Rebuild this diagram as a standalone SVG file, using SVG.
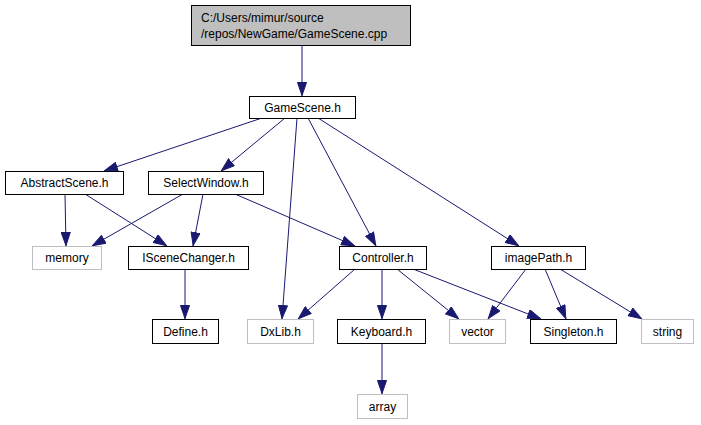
<svg xmlns="http://www.w3.org/2000/svg" width="701" height="425" viewBox="0 0 701 425">
<style>
text{font-family:"Liberation Sans",Arial,sans-serif;font-size:12px;fill:#000}
.c{text-anchor:middle}
.n rect{fill:#fff;stroke:#000;stroke-width:1}
.g rect{fill:#fff;stroke:#bfbfbf;stroke-width:1}
.e line{stroke:#191970;stroke-width:1;marker-end:url(#a)}
</style>
<defs>
<marker id="a" viewBox="0 0 14 10" refX="14" refY="5" markerWidth="14" markerHeight="10" markerUnits="userSpaceOnUse" orient="auto">
<polygon points="0.5,0.5 13.5,5 0.5,9.5" fill="#191970" stroke="#191970"/>
</marker>
</defs>
<rect width="701" height="425" fill="#fff"/>
<g class="e">
<line x1="302" y1="45" x2="302" y2="96"/>
<line x1="262" y1="118" x2="104" y2="171"/>
<line x1="285" y1="118" x2="221" y2="171"/>
<line x1="297" y1="118" x2="282" y2="319"/>
<line x1="308" y1="118" x2="376" y2="246"/>
<line x1="318" y1="118" x2="519" y2="246"/>
<line x1="65" y1="194" x2="66" y2="246"/>
<line x1="85" y1="194" x2="167" y2="246"/>
<line x1="183" y1="194" x2="92" y2="246"/>
<line x1="203" y1="194" x2="193" y2="246"/>
<line x1="235" y1="194" x2="355" y2="246"/>
<line x1="185" y1="269" x2="185" y2="319"/>
<line x1="355" y1="269" x2="298" y2="319"/>
<line x1="382" y1="269" x2="382" y2="319"/>
<line x1="397" y1="269" x2="459" y2="319"/>
<line x1="413" y1="269" x2="541" y2="319"/>
<line x1="526" y1="269" x2="488" y2="319"/>
<line x1="545" y1="269" x2="566" y2="319"/>
<line x1="560" y1="269" x2="642" y2="319"/>
<line x1="382" y1="344" x2="382" y2="394"/>
</g>
<g id="root" class="n"><rect x="191.5" y="5.5" width="219" height="40" style="fill:#bfbfbf"/><text x="201" y="22">C:/Users/mimur/source</text><text x="201" y="38">/repos/NewGame/GameScene.cpp</text></g>
<g id="GameScene" class="n"><rect x="249.5" y="96.5" width="106" height="22"/><text class="c" x="302.5" y="112">GameScene.h</text></g>
<g id="AbstractScene" class="n"><rect x="5.5" y="171.5" width="118" height="23"/><text class="c" x="64.5" y="187">AbstractScene.h</text></g>
<g id="SelectWindow" class="n"><rect x="148.5" y="171.5" width="115" height="23"/><text class="c" x="206" y="187">SelectWindow.h</text></g>
<g id="memory" class="g"><rect x="32.5" y="246.5" width="69" height="23"/><text class="c" x="67" y="262">memory</text></g>
<g id="ISceneChanger" class="n"><rect x="128.5" y="246.5" width="120" height="23"/><text class="c" x="188.5" y="262">ISceneChanger.h</text></g>
<g id="Controller" class="n"><rect x="339.5" y="246.5" width="87" height="23"/><text class="c" x="383" y="262">Controller.h</text></g>
<g id="imagePath" class="n"><rect x="491.5" y="246.5" width="94" height="23"/><text class="c" x="538.5" y="262">imagePath.h</text></g>
<g id="Define" class="n"><rect x="152.5" y="319.5" width="66" height="24"/><text class="c" x="185.5" y="336">Define.h</text></g>
<g id="DxLib" class="g"><rect x="247.5" y="319.5" width="66" height="24"/><text class="c" x="280.5" y="336">DxLib.h</text></g>
<g id="Keyboard" class="n"><rect x="337.5" y="319.5" width="88" height="24"/><text class="c" x="381.5" y="336">Keyboard.h</text></g>
<g id="vector" class="g"><rect x="449.5" y="319.5" width="56" height="24"/><text class="c" x="477.5" y="336">vector</text></g>
<g id="Singleton" class="n"><rect x="530.5" y="319.5" width="86" height="24"/><text class="c" x="573.5" y="336">Singleton.h</text></g>
<g id="string" class="g"><rect x="641.5" y="319.5" width="52" height="24"/><text class="c" x="667.5" y="336">string</text></g>
<g id="array" class="g"><rect x="357.5" y="394.5" width="50" height="24"/><text class="c" x="382.5" y="411">array</text></g>
</svg>
